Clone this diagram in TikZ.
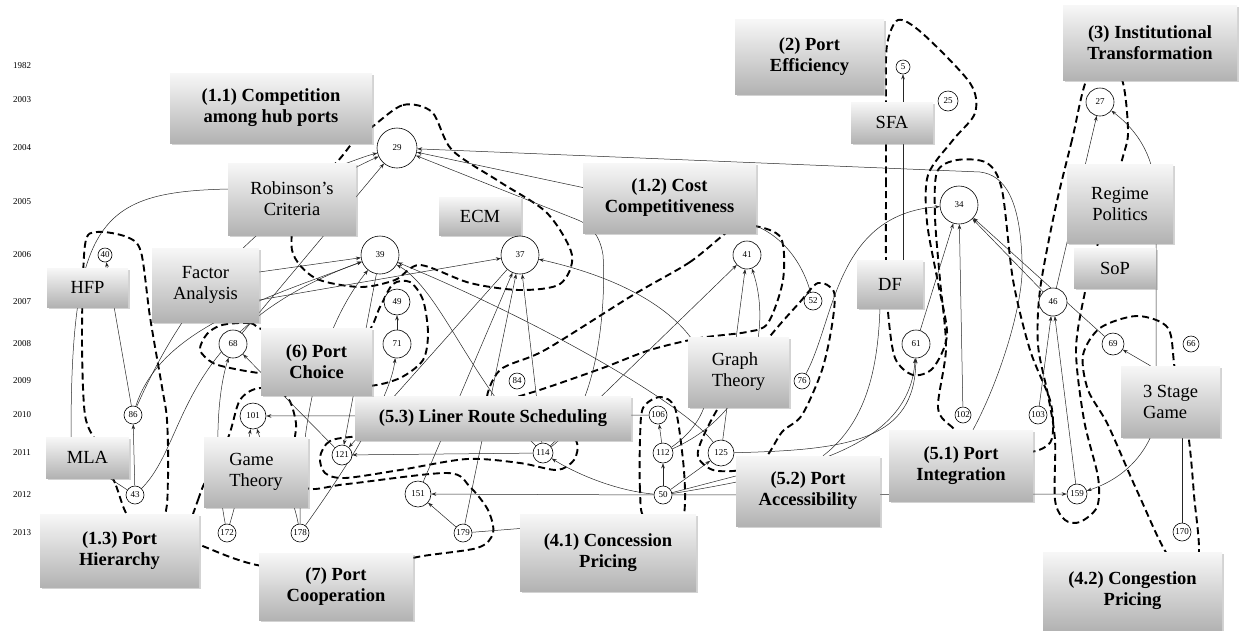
\documentclass[tikz,border=0pt]{standalone}
\usepackage{fontspec}
\setmainfont{Liberation Serif}
\usetikzlibrary{arrows.meta,shadows}
\pgfdeclarelayer{back}
\pgfsetlayers{back,main}

\begin{document}
\begin{tikzpicture}[
  x=1pt, y=-1pt,
  >={Stealth[length=5pt,width=3.6pt]},
  edge/.style={->, draw=black!85, line width=0.5pt},
  plain/.style={draw=black!85, line width=0.5pt},
  cluster/.style={draw=black, line width=1.9pt, dash pattern=on 7pt off 4pt},
  box/.style={top color=black!3, bottom color=black!30, drop shadow={shadow xshift=1.5pt, shadow yshift=-2pt, opacity=0.35}, inner sep=2pt, align=center},
  topic/.style={box, font=\bfseries\fontsize{18.5}{21}\selectfont},
  method/.style={box, font=\fontsize{18.5}{21}\selectfont},
  paper/.style={circle, draw=black, fill=white, line width=0.6pt, inner sep=0pt, minimum size=#1, font=\fontsize{9}{9}\selectfont},
  year/.style={font=\fontsize{9}{9}\selectfont}
]
\useasboundingbox (0,0) rectangle (1249,630);

% time axis
\node[year] (y1982) at (22,66) {1982};
\node[year] (y2003) at (22,100) {2003};
\node[year] (y2004) at (22,148) {2004};
\node[year] (y2005) at (22,202) {2005};
\node[year] (y2006) at (22,255) {2006};
\node[year] (y2007) at (22,302) {2007};
\node[year] (y2008) at (22,344) {2008};
\node[year] (y2009) at (22,381) {2009};
\node[year] (y2010) at (22,415) {2010};
\node[year] (y2011) at (22,453) {2011};
\node[year] (y2012) at (22,495) {2012};
\node[year] (y2013) at (22,533) {2013};

% research streams
\node[topic, minimum width=202pt, minimum height=70pt] (t11) at (271,108) {(1.1) Competition\\among hub ports};
\node[topic, minimum width=173pt, minimum height=70pt] (t12) at (669.5,198) {(1.2) Cost\\Competitiveness};
\node[topic, minimum width=159pt, minimum height=73pt] (t13) at (119.5,550.5) {(1.3) Port\\Hierarchy};
\node[topic, minimum width=149pt, minimum height=75pt] (t2) at (809.5,56.5) {(2) Port\\Efficiency};
\node[topic, minimum width=174pt, minimum height=75pt] (t3) at (1150,42.5) {(3) Institutional\\Transformation};
\node[topic, minimum width=176pt, minimum height=77pt] (t41) at (608,552.5) {(4.1) Concession\\Pricing};
\node[topic, minimum width=179pt, minimum height=78pt] (t42) at (1132.5,591) {(4.2) Congestion\\Pricing};
\node[topic, minimum width=144pt, minimum height=71pt] (t51) at (961,465.5) {(5.1) Port\\Integration};
\node[topic, minimum width=144pt, minimum height=70pt] (t52) at (808,491) {(5.2) Port\\Accessibility};
\node[topic, minimum width=276pt, minimum height=44pt] (t53) at (493,418) {(5.3) Liner Route Scheduling};
\node[topic, minimum width=111pt, minimum height=67pt] (t6) at (316.5,361.5) {(6) Port\\Choice};
\node[topic, minimum width=154pt, minimum height=67pt] (t7) at (336,586.5) {(7) Port\\Cooperation};

% methods
\node[method, minimum width=128pt, minimum height=72pt] (mRob) at (292,199) {Robinson’s\\Criteria};
\node[method, minimum width=82pt, minimum height=38pt] (mECM) at (480,216) {ECM};
\node[method, minimum width=82pt, minimum height=41pt] (mSFA) at (892,122.5) {SFA};
\node[method, minimum width=106pt, minimum height=79pt] (mRP) at (1120,203.5) {Regime\\Politics};
\node[method, minimum width=107pt, minimum height=74pt] (mFA) at (205.5,285) {Factor\\Analysis};
\node[method, minimum width=81pt, minimum height=39pt] (mHFP) at (87.5,287.5) {HFP};
\node[method, minimum width=66pt, minimum height=48pt] (mDF) at (890,284) {DF};
\node[method, minimum width=82pt, minimum height=40pt] (mSoP) at (1115,268) {SoP};
\node[method, minimum width=99pt, minimum height=71pt, align=left] (m3SG) at (1170.5,401.5) {3 Stage\\Game};
\node[method, minimum width=83pt, minimum height=41pt] (mMLA) at (87.5,457.5) {MLA};
\node[method, minimum width=104pt, minimum height=70pt, align=left] (mGT) at (256,472) {Game\\Theory};
\node[method, minimum width=101pt, minimum height=70pt, align=left] (mGrT) at (738.5,372) {Graph\\Theory};

% papers
\node[paper=14pt] (c5) at (903,67) {5};
\node[paper=20pt] (c25) at (948,101) {25};
\node[paper=28pt] (c27) at (1100,102) {27};
\node[paper=40pt] (c29) at (397,148) {29};
\node[paper=38pt] (c34) at (959,205) {34};
\node[paper=38pt] (c37) at (520,255) {37};
\node[paper=38pt] (c39) at (380,255) {39};
\node[paper=14pt] (c40) at (105,255) {40};
\node[paper=28pt] (c41) at (747,255) {41};
\node[paper=28pt] (c46) at (1053,302) {46};
\node[paper=26pt] (c49) at (397,302) {49};
\node[paper=18pt] (c52) at (813,301) {52};
\node[paper=28pt] (c61) at (916,344) {61};
\node[paper=16pt] (c66) at (1191,344) {66};
\node[paper=28pt] (c68) at (233,344) {68};
\node[paper=22pt] (c69) at (1113,344) {69};
\node[paper=28pt] (c71) at (397,344) {71};
\node[paper=16pt] (c76) at (802,381) {76};
\node[paper=16pt] (c84) at (517,381) {84};
\node[paper=18pt] (c86) at (133,415) {86};
\node[paper=26pt] (c101) at (253,416) {101};
\node[paper=16pt] (c102) at (963,415) {102};
\node[paper=18pt] (c103) at (1038,415) {103};
\node[paper=18pt] (c106) at (658,415) {106};
\node[paper=20pt] (c112) at (663,453) {112};
\node[paper=20pt] (c114) at (543,453) {114};
\node[paper=20pt] (c121) at (342,455) {121};
\node[paper=26pt] (c125) at (721,453) {125};
\node[paper=18pt] (c43) at (135,495) {43};
\node[paper=18pt] (c50) at (663,495) {50};
\node[paper=26pt] (c151) at (418,494) {151};
\node[paper=20pt] (c159) at (1077,494) {159};
\node[paper=18pt] (c170) at (1182,532) {170};
\node[paper=18pt] (c172) at (227,533) {172};
\node[paper=18pt] (c178) at (300,533) {178};
\node[paper=18pt] (c179) at (463,533) {179};

\begin{pgfonlayer}{back}
% stream outlines
\draw[cluster] plot[smooth cycle] coordinates {(372,127) (403,105) (432,112) (452,150) (500,182) (547,213) (572,255) (560,284) (520,290) (470,283) (420,265) (395,280) (360,287) (315,278) (292,250) (300,200) (337,162) (355,140)};
\draw[cluster] plot[smooth cycle] coordinates {(886,94) (886,180) (886,262) (888,312) (895,358) (913,375) (933,368) (947,335) (938,283) (927,222) (928,175) (953,140) (975,113) (970,83) (922,33) (898,20) (887,45)};
\draw[cluster] plot[smooth cycle] coordinates {(967,440) (953,428) (938,408) (946,348) (940,280) (935,217) (937,172) (957,160) (987,163) (1002,190) (1013,280) (1030,350) (1050,400) (1053,430) (1048,445) (1025,452)};
\draw[cluster] plot[smooth cycle] coordinates {(1089,75) (1072,140) (1055,210) (1040,290) (1038,345) (1048,395) (1055,440) (1055,500) (1065,520) (1080,522) (1097,507) (1098,477) (1084,420) (1076,350) (1085,292) (1098,243) (1122,160) (1128,130) (1120,75)};
\draw[cluster] plot[smooth cycle] coordinates {(1175,370) (1168,328) (1137,316) (1100,328) (1083,355) (1088,390) (1108,425) (1138,493) (1170,558) (1198,558) (1194,495) (1188,433)};
\draw[cluster] plot[smooth cycle] coordinates {(733,228) (690,262) (633,295) (545,350) (500,370) (488,402) (530,393) (600,369) (650,350) (700,338) (747,332) (768,323) (783,280) (781,238) (755,226)};
\draw[cluster] plot[smooth cycle] coordinates {(767,340) (800,302) (818,283) (834,292) (832,325) (822,370) (802,415) (782,432) (765,458) (740,470) (713,470) (698,457) (703,437) (722,402)};
\draw[cluster] plot[smooth cycle] coordinates {(645,518) (640,490) (640,440) (643,408) (660,397) (675,408) (683,460) (685,500) (680,518)};
\draw[cluster] plot[smooth cycle] coordinates {(360,436) (330,441) (320,457) (325,473) (345,478) (400,470) (467,459) (520,463) (557,470) (574,460) (577,443) (560,434) (450,428)};
\draw[cluster] plot[smooth cycle] coordinates {(190,522) (198,500) (205,482) (228,438) (240,400) (260,388) (287,397) (296,423) (295,445) (305,487) (347,484) (447,473) (470,487) (488,510) (493,533) (477,548) (413,558) (380,575) (262,566) (200,545) (182,538)};
\draw[cluster] plot[smooth cycle] coordinates {(130,518) (115,483) (98,445) (85,415) (82,335) (85,245) (97,232) (127,237) (141,252) (150,317) (162,387) (167,420) (168,477) (163,518)};
\draw[cluster] plot[smooth cycle] coordinates {(265,330) (250,323) (222,325) (207,334) (200,350) (213,363) (235,369) (265,374) (320,382) (368,386) (400,378) (423,360) (428,333) (423,300) (410,282) (393,284) (380,307) (365,334) (320,336)};

% citations
\draw[edge] ([xshift=-16.5pt]mMLA.north) .. controls (71,220) and (100,192) .. (228,189) .. controls (300,186) and (350,160) .. (c29);
\draw[edge] (c68) -- (c29);
\draw[edge] (c86) .. controls (175,320) and (240,220) .. (c29);
\draw[edge] (c114) .. controls (600,410) and (606,300) .. (603,255) .. controls (600,235) and (590,225) .. (578,220) -- (c29);
\draw[edge] (c52) .. controls (800,255) and (775,230) .. (745,222) -- (c29);
\draw[edge] ([xshift=12pt]t51.north) .. controls (1000,380) and (1025,300) .. (1022,260) .. controls (1020,200) and (1005,175) .. (980,172) -- (c29);
\draw[edge] ([yshift=13pt]mFA.east) -- (c39);
\draw[edge] ([yshift=-15pt]mFA.east) -- (c37);
\draw[edge] (c86) .. controls (160,330) and (260,300) .. (c39);
\draw[edge] (c86) -- (c40);
\draw[edge] (c43) -- (c86);
\draw[plain] ([xshift=22pt]mMLA.south) -- (c43);
\draw[edge] (c43) .. controls (190,440) and (175,330) .. (c39);
\draw[edge] (c172) .. controls (215,470) and (215,400) .. (c68);
\draw[edge] (c172) .. controls (240,490) and (245,460) .. (c101);
\draw[edge] (c178) .. controls (290,480) and (265,455) .. (c101);
\draw[edge] (c178) .. controls (300,420) and (320,330) .. (c39);
\draw[edge] (c178) .. controls (345,470) and (390,400) .. (c71);
\draw[edge] (c71) -- (c49);
\draw[edge] (c106) -- (c101);
\draw[edge] (c114) -- (c121);
\draw[edge] (c121) -- (c68);
\draw[edge] (c39) -- (c121);
\draw[edge] (c37) -- (c121);
\draw[edge] (c151) -- (c37);
\draw[edge] (c179) -- (c37);
\draw[edge] (c179) -- (c151);
\draw[plain] ([yshift=24pt]t41.west) -- (c179);
\draw[edge] (c114) -- (c37);
\draw[edge] (c114) .. controls (470,380) and (440,290) .. (c39);
\draw[edge] (c125) .. controls (690,410) and (560,330) .. (c39);
\draw[edge] (c114) -- (c41);
\draw[edge] (c112) .. controls (760,410) and (770,320) .. (c41);
\draw[edge] (c125) -- (c41);
\draw[edge] (c112) .. controls (740,400) and (720,300) .. (c37);
\draw[edge] (c112) -- (c106);
\draw[edge] (c50) -- (c112);
\draw[edge] (c50) .. controls (610,490) and (570,470) .. (c114);
\draw[edge] (c50) -- (c151);
\draw[edge] (c50) -- (c125);
\draw[edge] (c50) .. controls (820,470) and (910,440) .. (c61);
\draw[edge] (c50) -- (c159);
\draw[plain] (c50) -- ([yshift=15pt]t52.west);
\draw[edge] (c125) .. controls (850,450) and (915,440) .. (c61);
\draw[edge] (c61) -- (c34);
\draw[edge] (c102) -- (c34);
\draw[edge] (c46) -- (c34);
\draw[edge] (c69) -- (c34);
\draw[edge] (c76) .. controls (835,320) and (835,215) .. (c34);
\draw[edge] ([xshift=-20pt]m3SG.north) -- (c69);
\draw[edge] ([xshift=-14.5pt]m3SG.north) -- (1156,200) .. controls (1156,150) and (1130,125) .. (c27);
\draw[edge] (c46) -- (c27);
\draw[edge] (c103) -- (c46);
\draw[edge] (c159) -- (c46);
\draw[edge] ([xshift=-20pt]m3SG.south) .. controls (1140,460) and (1120,480) .. (c159);
\draw[plain] (c170) -- (m3SG.south -| c170);
\draw[edge] (mDF.north -| c5) -- (c5);
\draw[plain] ([xshift=15pt]t52.north) .. controls (870,420) and (878,360) .. ([xshift=-10pt]mDF.south);
\end{pgfonlayer}

\end{tikzpicture}
\end{document}
